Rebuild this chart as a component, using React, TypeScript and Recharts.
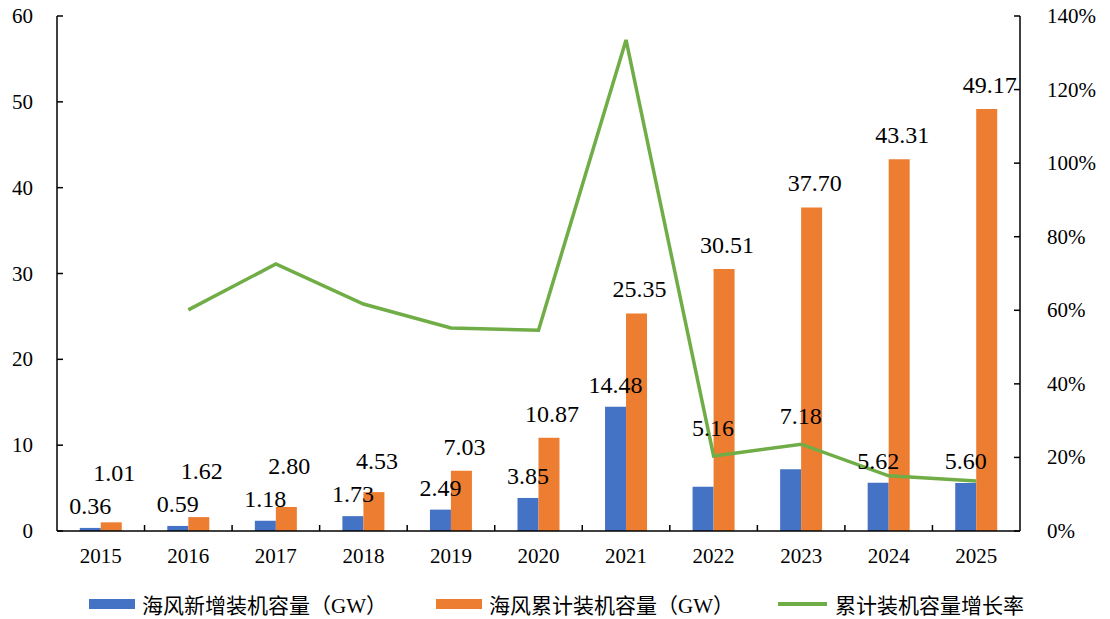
import { ComposedChart, Bar, Line, XAxis, YAxis, LabelList, Legend } from 'recharts';

const years = ['2015', '2016', '2017', '2018', '2019', '2020', '2021', '2022', '2023', '2024', '2025'];
const newCapacity = [0.36, 0.59, 1.18, 1.73, 2.49, 3.85, 14.48, 5.16, 7.18, 5.62, 5.6];
const totalCapacity = [1.01, 1.62, 2.8, 4.53, 7.03, 10.87, 25.35, 30.51, 37.7, 43.31, 49.17];
const growthRate = [null, 0.601, 0.726, 0.617, 0.552, 0.546, 1.335, 0.204, 0.236, 0.15, 0.136];
const leftTicks = [0, 10, 20, 30, 40, 50, 60];
const rightTicks = [0, 0.2, 0.4, 0.6, 0.8, 1.0, 1.2, 1.4];

const BLUE = '#4472C4';
const ORANGE = '#ED7D31';
const GREEN = '#70AD47';
const FONT = "'Liberation Serif', Tinos, 'DejaVu Serif', serif, 'Noto Sans CJK SC'";

const W = 1110;
const H = 619;
const TOP = 16;
const LEFT_W = 57;
const RIGHT_W = 90;
const BAND = (W - LEFT_W - RIGHT_W) / years.length;

const chartData = years.map((year, i) => ({
  year,
  added: newCapacity[i],
  total: totalCapacity[i],
  growth: growthRate[i],
}));

const LeftTick = ({ x, y, payload }: any) => (
  <g>
    <line x1={x} x2={x + 6} y1={y} y2={y} stroke="#000" strokeWidth={1.5} />
    <text x={x - 24} y={y} textAnchor="end" dominantBaseline="central" fontSize={21} fontFamily={FONT} fill="#000">
      {payload.value}
    </text>
  </g>
);

const RightTick = ({ x, y, payload }: any) => (
  <g>
    <line x1={x} x2={x - 6} y1={y} y2={y} stroke="#000" strokeWidth={1.5} />
    <text x={x + 27} y={y} textAnchor="start" dominantBaseline="central" fontSize={21} fontFamily={FONT} fill="#000">
      {`${Math.round(payload.value * 100)}%`}
    </text>
  </g>
);

const BottomTick = ({ x, y, payload, index }: any) => (
  <g>
    {index < years.length - 1 && (
      <line x1={x + BAND / 2} x2={x + BAND / 2} y1={y} y2={y - 6} stroke="#000" strokeWidth={1.5} />
    )}
    <text x={x} y={y + 25} textAnchor="middle" dominantBaseline="central" fontSize={21} fontFamily={FONT} fill="#000">
      {payload.value}
    </text>
  </g>
);

// blue labels: above the bar, lifted over the growth line when it runs just above the bar
const AddedLabel = (props: any) => {
  const { x, y, width, height, value } = props;
  const idx = newCapacity.indexOf(value);
  const top = Number(y);
  const bottom = top + Number(height);
  let cy = top - 22;
  let dx = 0;
  const g = growthRate[idx];
  if (g != null) {
    const lineY = bottom - (g / 1.4) * (bottom - TOP);
    if (lineY < top - 15 && lineY > top - 60) {
      cy = Math.min(cy, lineY - 28);
      dx = 10;
    }
  }
  return (
    <text x={x + width / 2 + dx} y={cy} textAnchor="middle" dominantBaseline="central" fontSize={24} fontFamily={FONT} fill="#000">
      {value.toFixed(2)}
    </text>
  );
};

// orange labels: keep clear of the blue label beside them
const TotalLabel = (props: any) => {
  const { x, y, width, height, value } = props;
  const idx = totalCapacity.indexOf(value);
  const bottom = y + height;
  const pxPerUnit = height / value;
  const blueTop = bottom - newCapacity[idx] * pxPerUnit;
  const cy = Math.min(y - 24, blueTop - 55);
  return (
    <text x={x + width / 2 + 3} y={cy} textAnchor="middle" dominantBaseline="central" fontSize={24} fontFamily={FONT} fill="#000">
      {value.toFixed(2)}
    </text>
  );
};

const LegendContent = () => (
  <div
    style={{
      height: 43,
      display: 'flex',
      alignItems: 'center',
      paddingLeft: 89,
      paddingTop: 12,
      boxSizing: 'border-box',
      fontFamily: FONT,
      fontSize: 21,
      color: '#000',
    }}
  >
    <span style={{ display: 'inline-block', width: 46, height: 10, background: BLUE, marginRight: 7 }} />
    <span style={{ marginRight: 49 }}>海风新增装机容量（GW）</span>
    <span style={{ display: 'inline-block', width: 46, height: 10, background: ORANGE, marginRight: 7 }} />
    <span style={{ marginRight: 44 }}>海风累计装机容量（GW）</span>
    <span style={{ display: 'inline-block', width: 49, height: 4, background: GREEN, marginRight: 8 }} />
    <span>累计装机容量增长率</span>
  </div>
);

const App = () => {
  return (
    <div style={{ width: W, height: H, background: '#fff' }}>
      <style>{`body{margin:0}`}</style>
      <ComposedChart
        width={W}
        height={H}
        data={chartData}
        margin={{ top: TOP, right: 0, left: 0, bottom: 0 }}
        barCategoryGap="26%"
        barGap={0}
      >
        <XAxis
          dataKey="year"
          height={45}
          tickSize={0}
          tickMargin={0}
          tickLine={false}
          axisLine={{ stroke: '#000', strokeWidth: 1.5 }}
          tick={<BottomTick />}
          interval={0}
        />
        <YAxis
          yAxisId="left"
          width={LEFT_W}
          domain={[0, 60]}
          ticks={leftTicks}
          tickSize={0}
          tickMargin={0}
          tickLine={false}
          axisLine={{ stroke: '#000', strokeWidth: 1.5 }}
          tick={<LeftTick />}
          interval={0}
        />
        <YAxis
          yAxisId="right"
          orientation="right"
          width={RIGHT_W}
          domain={[0, 1.4]}
          ticks={rightTicks}
          tickSize={0}
          tickMargin={0}
          tickLine={false}
          axisLine={{ stroke: '#000', strokeWidth: 1.5 }}
          tick={<RightTick />}
          interval={0}
        />
        <Legend verticalAlign="bottom" align="left" content={<LegendContent />} wrapperStyle={{ left: 0, width: W }} />
        <Bar yAxisId="left" dataKey="added" fill={BLUE} isAnimationActive={false}>
          <LabelList dataKey="added" content={<AddedLabel />} />
        </Bar>
        <Bar yAxisId="left" dataKey="total" fill={ORANGE} isAnimationActive={false}>
          <LabelList dataKey="total" content={<TotalLabel />} />
        </Bar>
        <Line
          yAxisId="right"
          dataKey="growth"
          type="linear"
          stroke={GREEN}
          strokeWidth={3.5}
          dot={false}
          activeDot={false}
          isAnimationActive={false}
        />
      </ComposedChart>
    </div>
  );
};

export default App;
